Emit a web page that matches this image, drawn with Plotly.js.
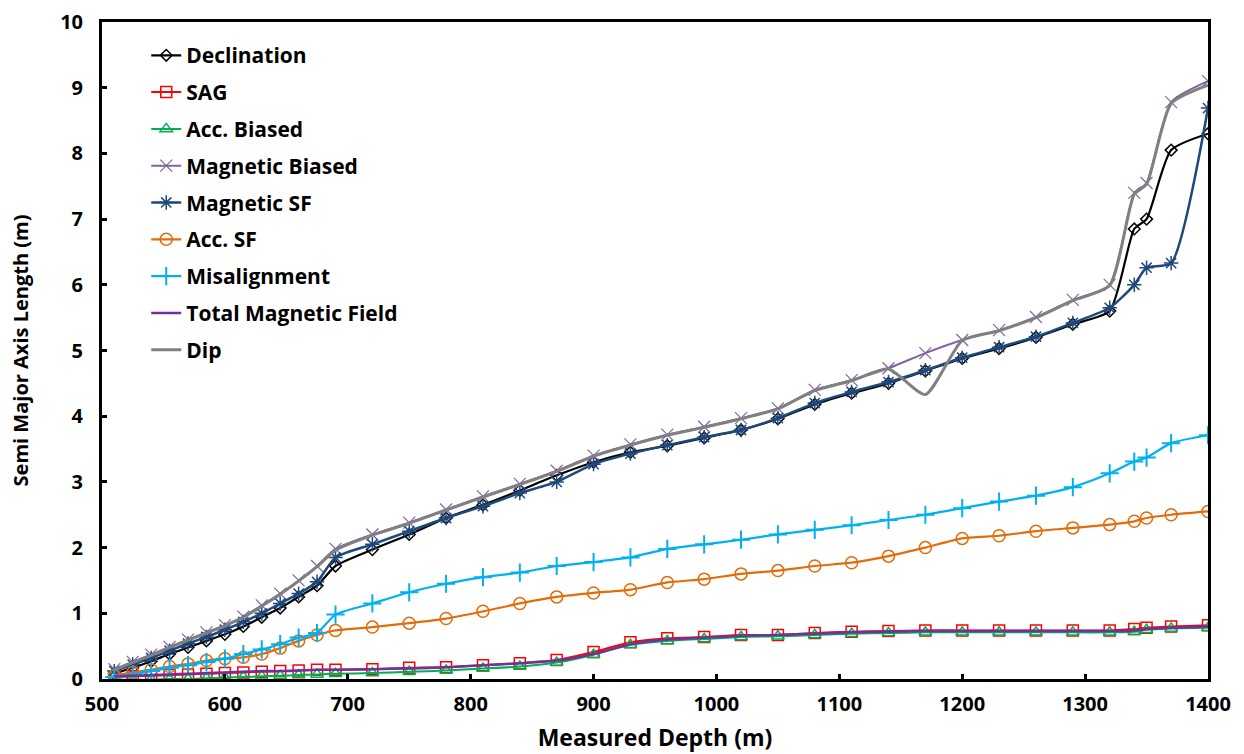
<!DOCTYPE html>
<html>
<head>
<meta charset="utf-8">
<script src="https://cdn.plot.ly/plotly-3.0.1.min.js"></script>
<style>html,body{margin:0;padding:0;background:#fff;}#chart{width:1244px;height:754px;}</style>
</head>
<body>
<div id="chart"></div>
<script>
const depth = [510,525,540,555,570,585,600,615,630,645,660,675,690,
  720,750,780,810,840,870,900,930,960,990,1020,1050,1080,1110,1140,1170,1200,1230,1260,1290,1320,
  1340,1350,1370,1400];

const declination = [0.08,0.17,0.27,0.38,0.48,0.58,0.68,0.80,0.94,1.08,1.25,1.42,1.72,
  1.97,2.20,2.45,2.65,2.87,3.10,3.30,3.45,3.55,3.67,3.79,3.96,4.18,4.35,4.50,4.69,4.88,5.03,5.20,5.40,5.60,
  6.85,7.00,8.05,8.30];
const sag = [0.03,0.04,0.05,0.06,0.07,0.08,0.09,0.10,0.11,0.12,0.13,0.14,0.14,
  0.15,0.17,0.18,0.21,0.24,0.29,0.41,0.56,0.62,0.64,0.67,0.67,0.70,0.72,0.73,0.74,0.74,0.74,0.74,0.74,0.74,
  0.76,0.78,0.80,0.82];
const accBiased = [-0.01,-0.01,-0.01,0.00,0.00,0.01,0.02,0.03,0.04,0.05,0.06,0.07,0.08,
  0.09,0.11,0.13,0.16,0.19,0.25,0.37,0.52,0.58,0.61,0.64,0.65,0.67,0.69,0.70,0.71,0.71,0.71,0.71,0.71,0.71,
  0.72,0.75,0.77,0.78];
const magBiased = [0.15,0.26,0.37,0.49,0.60,0.71,0.82,0.95,1.12,1.30,1.50,1.72,1.98,
  2.20,2.38,2.58,2.78,2.97,3.17,3.40,3.57,3.72,3.84,3.97,4.12,4.40,4.55,4.73,4.96,5.16,5.31,5.51,5.77,6.00,
  7.40,7.55,8.78,9.10];
const magSF = [0.12,0.22,0.32,0.43,0.54,0.64,0.75,0.87,1.00,1.15,1.30,1.48,1.85,
  2.05,2.25,2.45,2.63,2.83,3.00,3.27,3.43,3.56,3.68,3.79,3.97,4.20,4.37,4.52,4.70,4.89,5.05,5.21,5.42,5.65,
  6.00,6.26,6.33,8.69];
const accSF = [0.05,0.10,0.14,0.19,0.23,0.28,0.31,0.33,0.38,0.47,0.58,0.67,0.74,
  0.79,0.85,0.92,1.03,1.15,1.25,1.31,1.36,1.47,1.52,1.60,1.65,1.72,1.77,1.87,2.00,2.14,2.18,2.25,2.30,2.35,
  2.40,2.45,2.50,2.55];
const misalignment = [0.03,0.07,0.12,0.17,0.21,0.26,0.31,0.38,0.45,0.53,0.63,0.70,0.98,
  1.15,1.32,1.45,1.55,1.62,1.72,1.78,1.85,1.98,2.05,2.12,2.20,2.27,2.34,2.42,2.50,2.60,2.70,2.79,2.92,3.13,
  3.31,3.37,3.59,3.71];
const totalMag = [0.04,0.05,0.06,0.07,0.08,0.09,0.10,0.11,0.12,0.12,0.13,0.14,0.14,
  0.15,0.16,0.18,0.21,0.24,0.28,0.38,0.53,0.60,0.63,0.66,0.67,0.69,0.71,0.72,0.73,0.73,0.73,0.73,0.73,0.73,
  0.74,0.76,0.78,0.80];
const dip = [0.14,0.25,0.36,0.48,0.59,0.70,0.81,0.94,1.11,1.29,1.49,1.71,1.96,
  2.19,2.37,2.57,2.77,2.96,3.16,3.39,3.56,3.71,3.83,3.96,4.11,4.39,4.54,4.72,4.33,5.15,5.30,5.50,5.76,5.99,
  7.38,7.53,8.76,9.04];

const seriesNames = ["Declination","SAG","Acc. Biased","Magnetic Biased","Magnetic SF","Acc. SF","Misalignment","Total Magnetic Field","Dip"];

function tr(name, y, color, symbol, msize, lw, showMarker) {
  return {
    type: 'scatter', x: depth, y: y, name: name, legendgroup: name,
    mode: showMarker ? 'lines+markers' : 'lines',
    line: {color: color, width: lw, shape: 'spline', smoothing: 0.6},
    marker: {symbol: symbol, size: msize, color: color, line: {color: color, width: 1.5}},
    cliponaxis: true
  };
}

const data = [
  tr(seriesNames[0], declination, '#000000', 'diamond-open', 9, 2.2, true),
  tr(seriesNames[1], sag, '#FF0000', 'square-open', 11, 2, true),
  tr(seriesNames[2], accBiased, '#00B050', 'triangle-up-open', 11, 2, true),
  tr(seriesNames[3], magBiased, '#8064A2', 'x-thin-open', 12, 2, true),
  tr(seriesNames[4], magSF, '#1F497D', 'asterisk-open', 12, 2.5, true),
  tr(seriesNames[5], accSF, '#E36C09', 'circle-open', 12, 2.2, true),
  tr(seriesNames[6], misalignment, '#00B0F0', 'cross-thin-open', 13, 2.2, true),
  tr(seriesNames[7], totalMag, '#7030A0', 'circle', 6, 2.5, false),
  tr(seriesNames[8], dip, '#808080', 'circle', 6, 3, false)
];
data[3].marker.line.width = 1.2;
data[6].marker.line.width = 2;

const fam = '"Open Sans", "DejaVu Sans", sans-serif';
const legendFont = {family: fam, size: 21, color: '#000', weight: 'bold'};
const tickFont = {family: fam, size: 20, color: '#000', weight: 'bold'};
const yTitleFont = {family: fam, size: 20, color: '#000', weight: 'bold'};
const xTitleFont = {family: fam, size: 23, color: '#000', weight: 'bold'};

const layout = {
  width: 1244, height: 754,
  margin: {l: 102, r: 36, t: 22, b: 75},
  paper_bgcolor: '#fff', plot_bgcolor: '#fff',
  showlegend: true,
  legend: {
    x: 0.04, y: 0.98, xanchor: 'left', yanchor: 'top',
    font: legendFont, bgcolor: 'rgba(255,255,255,0)',
    traceorder: 'grouped', tracegroupgap: 6.5,
    itemwidth: 30
  },
  xaxis: {
    range: [500, 1400], dtick: 100, tick0: 500,
    showgrid: false, zeroline: false,
    showline: true, linecolor: '#000', linewidth: 3, mirror: true,
    ticks: 'inside', ticklen: 5, tickwidth: 3, tickcolor: '#000',
    tickfont: tickFont, ticklabelstandoff: 5,
    title: {text: 'Measured Depth (m)', font: xTitleFont, standoff: 14}
  },
  yaxis: {
    range: [0, 10], dtick: 1,
    showgrid: false, zeroline: false,
    showline: true, linecolor: '#000', linewidth: 3, mirror: true,
    ticks: 'inside', ticklen: 5, tickwidth: 3, tickcolor: '#000',
    tickfont: tickFont, ticklabelstandoff: 12,
    title: {text: 'Semi Major Axis Length (m)', font: yTitleFont, standoff: 27}
  }
};

Plotly.newPlot('chart', data, layout, {displayModeBar: false, staticPlot: true});
</script>
</body>
</html>
